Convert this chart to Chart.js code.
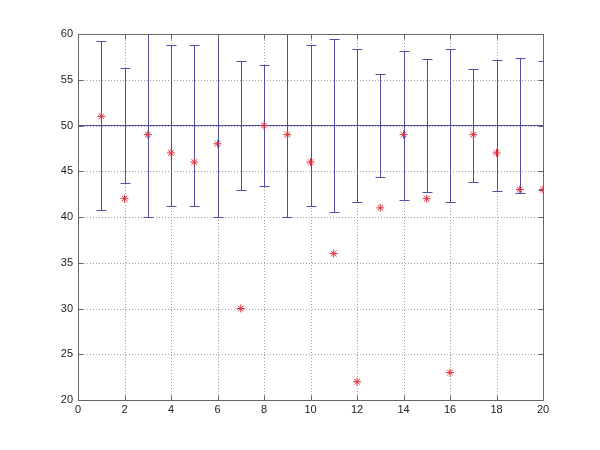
<!DOCTYPE html>
<html>
<head>
<meta charset="utf-8">
<script src="https://cdn.jsdelivr.net/npm/chart.js@4.4.0/dist/chart.umd.min.js"></script>
<style>
  body { margin: 0; background: #fff; }
  canvas { display: block; }
</style>
</head>
<body>
<canvas id="chart" width="600" height="450"></canvas>
<script>
// data
const xs = [1, 2, 3, 4, 5, 6, 7, 8, 9, 10, 11, 12, 13, 14, 15, 16, 17, 18, 19, 20];
const markerValues = [51, 42, 49, 47, 46, 48, 30, 50, 49, 46, 36, 22, 41, 49, 42, 23, 49, 47, 43, 43];
// error bars are centred on the mean line, half lengths below
const meanValue = 50;
const errHalf = [9.2, 6.3, 10.0, 8.85, 8.85, 9.95, 7.0, 6.6, 9.95, 8.8, 9.5, 8.35, 5.6, 8.1, 7.25, 8.35, 6.2, 7.2, 7.4, 7.0];
const xTicks = [0, 2, 4, 6, 8, 10, 12, 14, 16, 18, 20];
const yTicks = [20, 25, 30, 35, 40, 45, 50, 55, 60];

const blue = '#4f4fa8';
const red = '#e0303c';
const axisColor = '#666';

// dotted grid first, then the error bars on top of it
const errorBarPlugin = {
    id: 'errorBars',
    beforeDatasetsDraw(chart) {
        const { ctx, chartArea, scales } = chart;
        const xScale = scales.x, yScale = scales.y;
        const l = chartArea.left, r = chartArea.right, t = chartArea.top, b = chartArea.bottom;
        ctx.save();
        ctx.beginPath();
        ctx.rect(l, t, r - l, b - t);
        ctx.clip();

        ctx.strokeStyle = '#a0a0a0';
        ctx.lineWidth = 1;
        ctx.setLineDash([1, 2]);
        ctx.beginPath();
        xTicks.forEach(v => {
            const px = Math.round(xScale.getPixelForValue(v)) + 0.5;
            ctx.moveTo(px, t); ctx.lineTo(px, b);
        });
        yTicks.forEach(v => {
            const py = Math.round(yScale.getPixelForValue(v)) + 0.5;
            ctx.moveTo(l, py); ctx.lineTo(r, py);
        });
        ctx.stroke();
        ctx.setLineDash([]);

        ctx.strokeStyle = blue;
        const cap = 5;
        xs.forEach((x, i) => {
            const px = Math.round(xScale.getPixelForValue(x)) + 0.5;
            const top = Math.round(yScale.getPixelForValue(meanValue + errHalf[i])) + 0.5;
            const bot = Math.round(yScale.getPixelForValue(meanValue - errHalf[i])) + 0.5;
            ctx.beginPath();
            ctx.moveTo(px, top); ctx.lineTo(px, bot);
            ctx.moveTo(px - cap, top); ctx.lineTo(px + cap, top);
            ctx.moveTo(px - cap, bot); ctx.lineTo(px + cap, bot);
            ctx.stroke();
        });
        ctx.restore();
    }
};

// matlab style box with inward ticks
const boxPlugin = {
    id: 'box',
    afterDraw(chart) {
        const { ctx, chartArea, scales } = chart;
        const l = Math.round(chartArea.left) + 0.5, r = Math.round(chartArea.right) + 0.5;
        const t = Math.round(chartArea.top) + 0.5, b = Math.round(chartArea.bottom) + 0.5;
        ctx.save();
        ctx.strokeStyle = axisColor;
        ctx.lineWidth = 1;
        ctx.strokeRect(l, t, r - l, b - t);
        const len = 5;
        ctx.beginPath();
        xTicks.forEach(v => {
            const px = Math.round(scales.x.getPixelForValue(v)) + 0.5;
            ctx.moveTo(px, b); ctx.lineTo(px, b - len);
            ctx.moveTo(px, t); ctx.lineTo(px, t + len);
        });
        yTicks.forEach(v => {
            const py = Math.round(scales.y.getPixelForValue(v)) + 0.5;
            ctx.moveTo(l, py); ctx.lineTo(l + len, py);
            ctx.moveTo(r, py); ctx.lineTo(r - len, py);
        });
        ctx.stroke();
        ctx.restore();
    }
};

const gridOpts = { display: false, drawTicks: false, tickLength: 0 };
const borderOpts = { display: false };
const tickFont = { family: '"Liberation Sans", Arial, sans-serif', size: 11 };

new Chart(document.getElementById('chart'), {
    type: 'scatter',
    data: {
        datasets: [
            {
                data: markerValues.map((v, i) => ({ x: xs[i], y: v })),
                pointStyle: 'star',
                pointRadius: 4,
                pointBorderColor: red,
                pointBackgroundColor: red,
                pointBorderWidth: 1,
                showLine: false
            },
            {
                data: [{ x: xTicks[0], y: meanValue }, { x: xTicks[xTicks.length - 1], y: meanValue }],
                showLine: true,
                borderColor: blue,
                borderWidth: 1,
                pointRadius: 0
            }
        ]
    },
    options: {
        responsive: false,
        animation: false,
        layout: { padding: { top: 34, right: 57, left: 0, bottom: 0 } },
        plugins: { legend: { display: false }, tooltip: { enabled: false } },
        scales: {
            x: {
                type: 'linear', min: 0, max: 20,
                afterBuildTicks: s => { s.ticks = xTicks.map(v => ({ value: v })); },
                afterFit: s => { s.height = 50; },
                grid: gridOpts, border: borderOpts,
                ticks: { color: '#222', font: tickFont, padding: 3, maxRotation: 0 }
            },
            y: {
                type: 'linear', min: 20, max: 60,
                afterBuildTicks: s => { s.ticks = yTicks.map(v => ({ value: v })); },
                afterFit: s => { s.width = 78; },
                grid: gridOpts, border: borderOpts,
                ticks: { color: '#222', font: tickFont, padding: 5 }
            }
        }
    },
    plugins: [errorBarPlugin, boxPlugin]
});
</script>
</body>
</html>
